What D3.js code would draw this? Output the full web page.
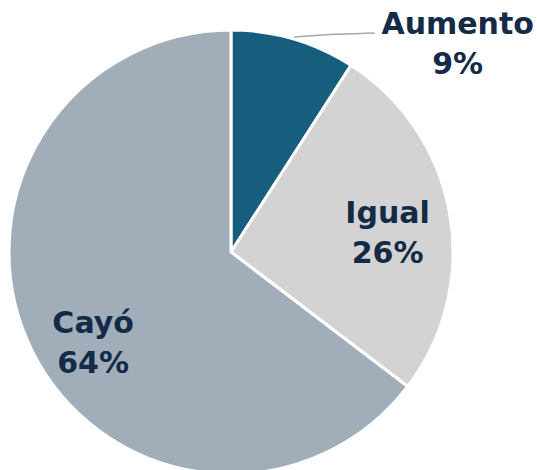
<!DOCTYPE html>
<html>
<head>
<meta charset="utf-8">
<script src="https://cdn.jsdelivr.net/npm/d3@7"></script>
<style>
  html, body { margin: 0; padding: 0; background: #fff; overflow: hidden; }
  text { font-family: "DejaVu Sans", sans-serif; font-weight: bold; }
</style>
</head>
<body>
<svg id="chart"></svg>
<script>
const LABELS = ['Aumento', 'Igual', 'Cayó'];
const VALUES = [9, 26, 64];
const COLORS = ['#175e7e', '#d3d3d3', '#a1aeba'];

const width = 537;
const height = 470;
const cx = 231, cy = 252;
const radius = 222;

// label placement per slice: radius from center, angle nudge (radians)
const labelPos = [
  {r: 309, da: 0.538, outside: true},
  {r: 158, da: 0.042},
  {r: 164, da: -0.112}
];

const svg = d3.select('#chart')
  .attr('width', width)
  .attr('height', height);

const pie = d3.pie().sort(null).value(d => d);
const arcs = pie(VALUES);
const arc = d3.arc().innerRadius(0).outerRadius(radius);

const g = svg.append('g').attr('transform', `translate(${cx}, ${cy})`);

g.selectAll('path.slice')
  .data(arcs).enter()
  .append('path')
    .attr('class', 'slice')
    .attr('d', arc)
    .attr('fill', (d, i) => COLORS[i])
    .attr('stroke', '#fff')
    .attr('stroke-width', 3)
    .attr('stroke-linejoin', 'round');

const polar = (r, a) => [r * Math.sin(a), -r * Math.cos(a)];

// leader line for the small outside slice
arcs.forEach((d, i) => {
  if (!labelPos[i].outside) return;
  const mid = (d.startAngle + d.endAngle) / 2;
  const p0 = polar(radius + 2, mid);
  const lp = polar(labelPos[i].r, mid + labelPos[i].da);
  const p2 = [lp[0] - 83, lp[1] - 9];
  const p1 = [p2[0] - 45, p2[1] + 1.5];
  g.append('path')
    .attr('d', d3.line()([p0, p1, p2]))
    .attr('fill', 'none')
    .attr('stroke', '#a6a6a6')
    .attr('stroke-width', 1.5);
});

const labels = g.selectAll('text.lbl')
  .data(arcs).enter()
  .append('text')
    .attr('class', 'lbl')
    .attr('text-anchor', 'middle')
    .attr('fill', '#132b46')
    .attr('font-size', 30)
    .attr('transform', (d, i) => {
      const mid = (d.startAngle + d.endAngle) / 2 + labelPos[i].da;
      const p = polar(labelPos[i].r, mid);
      return `translate(${p[0]}, ${p[1]})`;
    });

labels.append('tspan')
  .attr('x', 0)
  .attr('dy', -8)
  .text((d, i) => LABELS[i]);

labels.append('tspan')
  .attr('x', 0)
  .attr('dy', 40)
  .text(d => d.data + '%');
</script>
</body>
</html>
